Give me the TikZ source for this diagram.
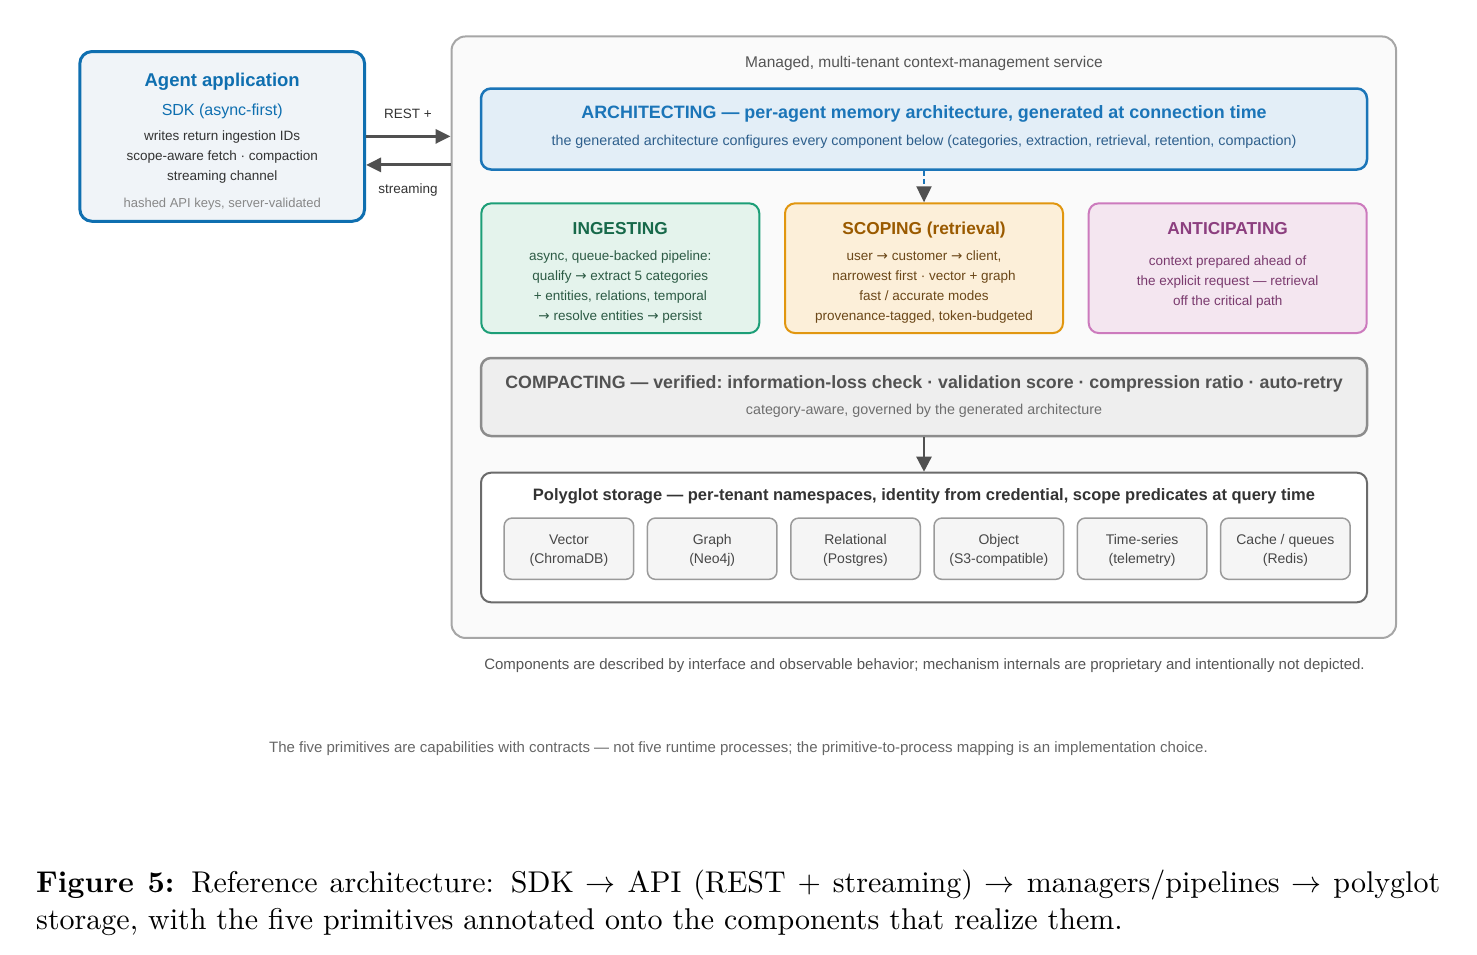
\RequirePackage{fix-cm}
\documentclass[tikz,border=0pt]{standalone}
\usepackage{fontspec}
\newfontfamily\diagfont{Liberation Sans}
\newfontfamily\arrowfont{DejaVu Sans}
\newfontfamily\capfont{lmroman10-regular.otf}[BoldFont=lmroman10-bold.otf]
\usetikzlibrary{arrows.meta}
\newcommand{\dfont}[1]{\diagfont\fontsize{#1}{#1}\selectfont\frenchspacing}
\newcommand{\ra}{{\arrowfont →}}

\definecolor{svcline}{HTML}{A6A6A6}
\definecolor{svcfill}{HTML}{FAFAFA}
\definecolor{sdkblue}{HTML}{0F6FB0}
\definecolor{sdkfill}{HTML}{F0F4F8}
\definecolor{archblue}{HTML}{1B75B8}
\definecolor{archfill}{HTML}{E3EEF7}
\definecolor{archtext}{HTML}{2E5F8C}
\definecolor{ingline}{HTML}{1C9E77}
\definecolor{ingfill}{HTML}{E4F3EC}
\definecolor{ingtitle}{HTML}{17694A}
\definecolor{ingtext}{HTML}{2C5A44}
\definecolor{scoline}{HTML}{E1960F}
\definecolor{scofill}{HTML}{FCEFD9}
\definecolor{scotitle}{HTML}{9A5A00}
\definecolor{scotext}{HTML}{6B4718}
\definecolor{antline}{HTML}{CC7ABD}
\definecolor{antfill}{HTML}{F4E6F0}
\definecolor{anttitle}{HTML}{8C3F7F}
\definecolor{anttext}{HTML}{7A3A6E}
\definecolor{compline}{HTML}{8C8C8C}
\definecolor{compfill}{HTML}{EEEEEE}
\definecolor{storeline}{HTML}{6B6B6B}
\definecolor{cellline}{HTML}{9A9A9A}
\definecolor{cellfill}{HTML}{F5F5F5}
\definecolor{flowgray}{HTML}{505050}
\definecolor{ink}{HTML}{333333}
\definecolor{inkmid}{HTML}{555555}
\definecolor{inklight}{HTML}{888888}

\tikzset{
  panel/.style={draw, rounded corners=10pt, line width=2pt, inner sep=0pt},
  txt/.style={anchor=base, inner sep=0pt, font=\dfont{13.5}},
  head/.style={anchor=base, inner sep=0pt, font=\dfont{17.3}\bfseries},
  flow/.style={draw=flowgray, line width=3pt, -{Triangle[length=15pt,width=14pt]}},
}

\begin{document}
\begin{tikzpicture}[x=1pt,y=-1pt]
\useasboundingbox (0,0) rectangle (1477,954);
% boxes
\node[panel, draw=svcline, fill=svcfill, rounded corners=14pt, minimum width=944.5pt, minimum height=601.5pt] (svc) at (923.8,337.2) {};
\node[panel, draw=sdkblue, fill=sdkfill, rounded corners=12pt, line width=3pt, minimum width=284.7pt, minimum height=169.7pt] (agent) at (222.2,136.4) {};
\node[panel, draw=archblue, fill=archfill, line width=2.5pt, minimum width=886pt, minimum height=81pt] (arch) at (924,129) {};
\node[panel, draw=ingline, fill=ingfill, minimum width=278pt, minimum height=129.7pt] (ing) at (620.3,268.2) {};
\node[panel, draw=scoline, fill=scofill, minimum width=278pt, minimum height=129.7pt] (sco) at (924,268.2) {};
\node[panel, draw=antline, fill=antfill, minimum width=278pt, minimum height=129.7pt] (ant) at (1227.7,268.2) {};
\node[panel, draw=compline, fill=compfill, line width=2.5pt, minimum width=886pt, minimum height=78pt] (comp) at (924,397) {};
\node[panel, draw=storeline, fill=white, minimum width=886pt, minimum height=129.6pt] (store) at (924,537.5) {};

% texts
\node[txt, font=\dfont{15.5}, text=inkmid] (svct) at (924,67.3) {Managed, multi-tenant context-management service};
\node[anchor=base, inner sep=0pt, font=\dfont{18.5}\bfseries, text=sdkblue] (agentt) at (222.2,86) {Agent application};
\node[anchor=base, inner sep=0pt, font=\dfont{16}, text=sdkblue] (sdk) at (222.2,115.3) {SDK (async-first)};
\node[txt, text=ink] (agent1) at (222.2,140.7) {writes return ingestion IDs};
\node[txt, text=ink] (agent2) at (222.2,160.7) {scope-aware fetch · compaction};
\node[txt, text=ink] (agent3) at (222.2,180.5) {streaming channel};
\node[txt, font=\dfont{13}, text=inklight] (keys) at (222.2,207.7) {hashed API keys, server-validated};
\node[txt, text=ink] (rest) at (408,118.7) {REST +};
\node[txt, text=ink] (strm) at (408,193.5) {streaming};

\node[head, font=\dfont{17.9}\bfseries, text=archblue] (archt) at (924,118.3) {ARCHITECTING — per-agent memory architecture, generated at connection time};
\node[txt, font=\dfont{14.3}, text=archtext] (archs) at (924,145) {the generated architecture configures every component below (categories, extraction, retrieval, retention, compaction)};

\node[head, text=ingtitle] (ingt) at (620.3,234.3) {INGESTING};
\node[txt, text=ingtext] (ing1) at (620.3,260.7) {async, queue-backed pipeline:};
\node[txt, text=ingtext] (ing2) at (620.3,280.7) {qualify \ra{} extract 5 categories};
\node[txt, text=ingtext] (ing3) at (620.3,300.7) {+ entities, relations, temporal};
\node[txt, text=ingtext] (ing4) at (620.3,320.5) {\ra{} resolve entities \ra{} persist};

\node[head, text=scotitle] (scot) at (924,234.3) {SCOPING (retrieval)};
\node[txt, text=scotext] (sco1) at (924,260.7) {user \ra{} customer \ra{} client,};
\node[txt, text=scotext] (sco2) at (924,280.7) {narrowest first · vector + graph};
\node[txt, text=scotext] (sco3) at (924,300.7) {fast / accurate modes};
\node[txt, text=scotext] (sco4) at (924,320.5) {provenance-tagged, token-budgeted};

\node[head, text=anttitle] (antt) at (1227.7,234.3) {ANTICIPATING};
\node[txt, text=anttext] (ant1) at (1227.7,265) {context prepared ahead of};
\node[txt, text=anttext] (ant2) at (1227.7,285) {the explicit request — retrieval};
\node[txt, text=anttext] (ant3) at (1227.7,305) {off the critical path};

\node[head, font=\dfont{17.8}\bfseries, text=ink!85!white] (compt) at (924,388.3) {COMPACTING — verified: information-loss check · validation score · compression ratio · auto-retry};
\node[txt, font=\dfont{14.3}, text=inkmid!85!white] (comps) at (924,414) {category-aware, governed by the generated architecture};

\node[head, font=\dfont{16.5}\bfseries, text=ink] (storet) at (924,500.7) {Polyglot storage — per-tenant namespaces, identity from credential, scope predicates at query time};
\foreach \kind/\impl [count=\i from 0] in {Vector/(ChromaDB), Graph/(Neo4j), Relational/(Postgres), Object/(S3-compatible), Time-series/(telemetry), {Cache / queues}/(Redis)} {
  \pgfmathsetmacro\cx{568.9+143.3*\i}
  \node[panel, draw=cellline, fill=cellfill, rounded corners=8pt, line width=1.5pt, minimum width=129.5pt, minimum height=61.3pt] (cell\i) at (\cx,548.7) {};
  \node[txt, font=\dfont{14}, text=ink!90!white] (kind\i) at (\cx,544) {\kind};
  \node[txt, font=\dfont{14}, text=ink!90!white] (impl\i) at (\cx,563.3) {\impl};
}

\node[txt, font=\dfont{15}, text=inkmid] (foot) at (924.5,669) {Components are described by interface and observable behavior; mechanism internals are proprietary and intentionally not depicted.};
\node[txt, font=\dfont{15}, text=inkmid!90!white] (note) at (738.5,752.7) {The five primitives are capabilities with contracts — not five runtime processes; the primitive-to-process mapping is an implementation choice.};

\node[anchor=base west, inner sep=0pt, text width=1404pt, align=justify, font=\capfont\fontsize{30}{36.3}\selectfont] (caption) at (36,892.7) {\textbf{Figure 5:} Reference architecture: SDK $\rightarrow$ API (REST + streaming) $\rightarrow$ managers/pipelines $\rightarrow$ polyglot storage, with the five primitives annotated onto the components that realize them.};

% connectors
\path
  (agent.east) edge[flow] (agent.east -| svc.west)
  ([yshift=-28.5pt]agent.east -| svc.west) edge[flow] ([yshift=-28.5pt]agent.east)
  (arch.south) edge[draw=archblue, line width=2pt, dash pattern=on 5pt off 3pt, -{Triangle[length=16pt,width=15pt,color=flowgray]}] (sco.north)
  (comp.south) edge[draw=flowgray, line width=2.5pt, -{Triangle[length=15pt,width=15pt]}] (store.north)
;
\end{tikzpicture}
\end{document}
